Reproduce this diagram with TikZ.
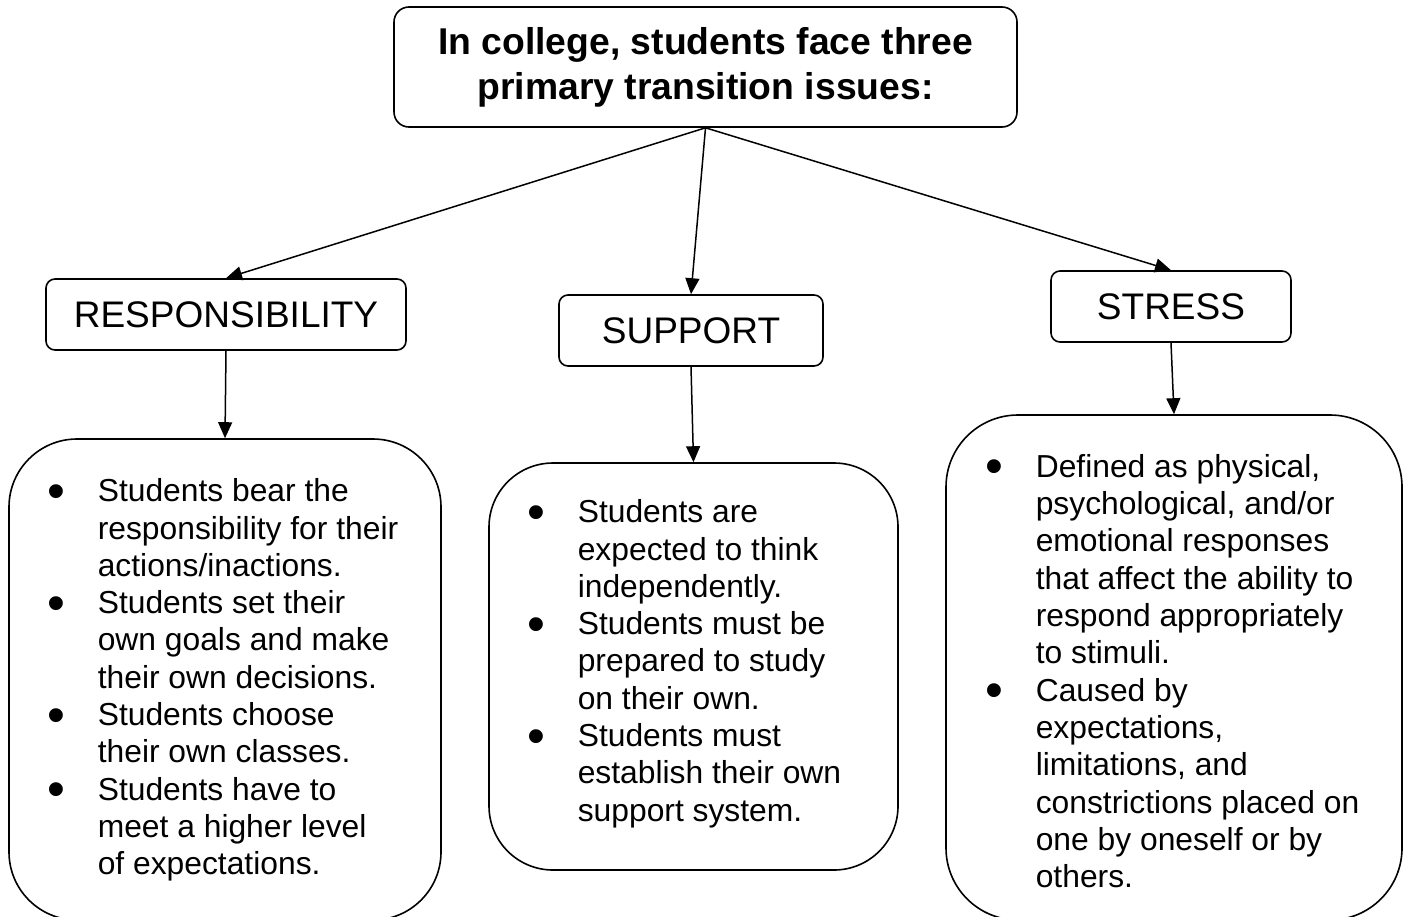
\documentclass[tikz,border=0pt]{standalone}
\usepackage{fontspec}
\usepackage{graphicx}
\setmainfont{Liberation Sans}
\usetikzlibrary{arrows.meta}
\newcommand{\bodysize}{\fontsize{31.8}{37.3}\selectfont}
\newcommand{\bul}{\makebox[47pt][l]{\hspace{-3.5pt}\raisebox{-6.5pt}{\scalebox{1.6}{•}}}}
\begin{document}
\begin{tikzpicture}[x=1pt,y=-1pt,
  line width=1.6pt,
  headbox/.style={draw, rounded corners=15pt, minimum width=623pt, minimum height=120pt,
    align=center, inner sep=0pt, font=\bfseries\fontsize{37.3}{45}\selectfont},
  topicbox/.style={draw, rounded corners=9pt, minimum height=71pt, inner sep=0pt,
    font=\fontsize{37}{44}\selectfont},
  listbox/.style={draw, inner sep=0pt},
  listtext/.style={anchor=base west, inner sep=0pt, font=\bodysize},
  link/.style={-{Triangle[length=16pt,width=14pt]}, line width=1.5pt}
]
\clip (0,0) rectangle (1407,916);

% heading
\node[headbox] (head) at (705.5,67) {In college, students face three\\primary transition issues:};

% the three issues
\node[topicbox, minimum width=360pt] (resp) at (226,314.5) {RESPONSIBILITY};
\node[topicbox, minimum width=264pt] (supp) at (691,330.5) {SUPPORT};
\node[topicbox, minimum width=240pt] (stress) at (1171,306.5) {STRESS};

% detail boxes
\node[listbox, rounded corners=68pt, minimum width=432pt, minimum height=481pt] (respbox) at (225,679.5) {};
\node[listbox, rounded corners=64pt, minimum width=409pt, minimum height=407pt] (suppbox) at (693.5,666.5) {};
\node[listbox, rounded corners=72pt, minimum width=456pt, minimum height=505pt] (stressbox) at (1174,667.5) {};

\node[listtext] (resptext) at (50,501.7) {\begin{tabular}[t]{@{}l@{}l@{}}
\bul & Students bear the\\
 & responsibility for their\\
 & actions/inactions.\\
\bul & Students set their\\
 & own goals and make\\
 & their own decisions.\\
\bul & Students choose\\
 & their own classes.\\
\bul & Students have to\\
 & meet a higher level\\
 & of expectations.
\end{tabular}};

\node[listtext] (supptext) at (530,522.7) {\begin{tabular}[t]{@{}l@{}l@{}}
\bul & Students are\\
 & expected to think\\
 & independently.\\
\bul & Students must be\\
 & prepared to study\\
 & on their own.\\
\bul & Students must\\
 & establish their own\\
 & support system.
\end{tabular}};

\node[listtext] (stresstext) at (988,477.3) {\begin{tabular}[t]{@{}l@{}l@{}}
\bul & Defined as physical,\\
 & psychological, and/or\\
 & emotional responses\\
 & that affect the ability to\\
 & respond appropriately\\
 & to stimuli.\\
\bul & Caused by\\
 & expectations,\\
 & limitations, and\\
 & constrictions placed on\\
 & one by oneself or by\\
 & others.
\end{tabular}};

% connectors
\draw[link] (head.south) -- (resp.north);
\draw[link] (head.south) -- (supp.north);
\draw[link] (head.south) -- (stress.north);
\draw[link] (resp.south) -- (respbox.north);
\draw[link] (supp.south) -- (suppbox.north);
\draw[link] (stress.south) -- (stressbox.north);
\end{tikzpicture}
\end{document}
